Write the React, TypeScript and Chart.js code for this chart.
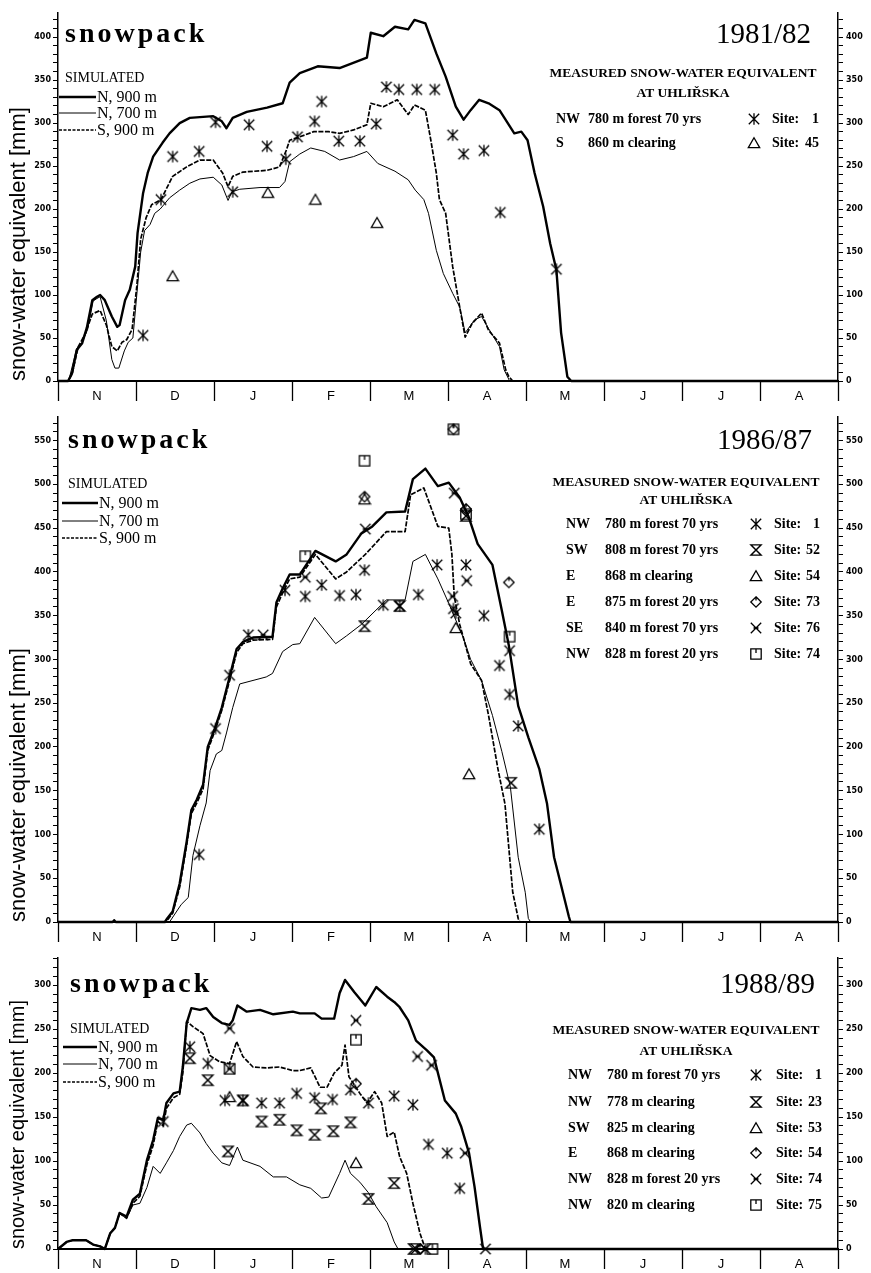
import React, { useEffect, useRef } from 'react';
import { Chart, registerables } from 'chart.js';

Chart.register(...registerables);

type Pt = [number, number];

// x values are month positions: 0 = start of November ... 10 = end of August
const MONTHS = ['N', 'D', 'J', 'F', 'M', 'A', 'M', 'J', 'J', 'A'];
const Y_LABEL = 'snow-water equivalent [mm]';
const SIM_LABELS = ['N, 900 m', 'N, 700 m', 'S, 900 m'];

// ---------- 1981/82 ----------
const p1N900: Pt[] = [[0,0],[0.13,0],[0.18,9],[0.24,36],[0.31,44],[0.37,62],[0.44,94],[0.50,98],[0.54,100],[0.60,94],[0.69,75],[0.76,63],[0.79,65],[0.86,94],[0.92,106],[0.99,133],[1.02,172],[1.09,218],[1.15,242],[1.22,261],[1.34,277],[1.43,288],[1.56,300],[1.69,306],[1.99,308],[2.10,302],[2.16,294],[2.24,306],[2.42,313],[2.68,318],[2.88,323],[2.97,347],[3.10,358],[3.33,366],[3.61,364],[3.96,376],[4.01,405],[4.17,401],[4.32,412],[4.49,409],[4.57,420],[4.71,416],[4.85,381],[4.97,354],[5.10,319],[5.20,304],[5.29,315],[5.40,327],[5.52,323],[5.66,315],[5.85,288],[5.94,290],[6.02,280],[6.11,242],[6.22,203],[6.31,160],[6.39,129],[6.45,56],[6.53,5],[6.58,0],[10,0]];
const p1N700: Pt[] = [[0,0],[0.13,0],[0.15,5],[0.24,38],[0.31,45],[0.38,60],[0.45,93],[0.50,96],[0.54,98],[0.62,70],[0.69,25],[0.73,15],[0.78,15],[0.85,35],[0.90,45],[0.96,50],[1.01,100],[1.06,150],[1.11,175],[1.18,182],[1.24,195],[1.31,200],[1.43,213],[1.56,222],[1.69,230],[1.82,235],[1.99,237],[2.10,228],[2.18,210],[2.23,220],[2.33,223],[2.59,225],[2.84,225],[2.91,232],[2.97,255],[3.10,264],[3.24,271],[3.42,267],[3.61,257],[3.79,261],[3.96,267],[4.10,253],[4.32,244],[4.49,234],[4.58,222],[4.69,211],[4.75,195],[4.85,152],[4.94,125],[5.06,102],[5.15,86],[5.22,56],[5.34,71],[5.43,75],[5.52,61],[5.66,40],[5.72,13],[5.79,0],[10,0]];
const p1S900: Pt[] = [[0,0],[0.13,0],[0.18,8],[0.26,40],[0.35,55],[0.44,78],[0.54,82],[0.62,65],[0.69,40],[0.76,35],[0.82,45],[0.88,48],[0.95,60],[1.01,110],[1.06,165],[1.13,190],[1.20,205],[1.32,211],[1.47,238],[1.65,249],[1.82,257],[1.99,257],[2.11,242],[2.18,226],[2.24,238],[2.37,243],[2.68,245],[2.84,249],[2.93,269],[2.97,280],[3.10,284],[3.28,290],[3.47,290],[3.61,288],[3.79,292],[3.96,298],[4.01,323],[4.17,319],[4.35,327],[4.49,310],[4.57,321],[4.71,315],[4.78,280],[4.85,242],[4.89,211],[4.97,195],[5.06,133],[5.15,86],[5.22,51],[5.31,67],[5.43,79],[5.52,59],[5.66,44],[5.74,13],[5.78,5],[5.83,0],[10,0]];
const p1Site1: Pt[] = [[1.09,53],[1.32,211],[1.47,261],[1.81,267],[2.02,301],[2.24,220],[2.45,298],[2.68,273],[2.92,258],[3.07,284],[3.29,302],[3.38,325],[3.60,279],[3.87,279],[4.08,299],[4.21,342],[4.37,339],[4.60,339],[4.83,339],[5.06,286],[5.20,264],[5.46,268],[5.67,196],[6.39,130]];
const p1Site45: Pt[] = [[1.47,122],[2.69,219],[3.30,211],[4.09,184]];

// ---------- 1986/87 ----------
const p2N900: Pt[] = [[0,0],[0.70,0],[0.72,2],[0.74,0],[1.37,0],[1.40,4],[1.47,12],[1.56,44],[1.65,92],[1.71,128],[1.78,140],[1.86,157],[1.92,200],[2.01,221],[2.10,245],[2.20,280],[2.29,312],[2.37,320],[2.50,325],[2.75,326],[2.80,365],[2.88,381],[2.97,397],[3.10,397],[3.30,424],[3.56,412],[3.70,420],[3.89,444],[4.03,452],[4.21,468],[4.45,469],[4.55,506],[4.71,518],[4.87,498],[5.01,502],[5.15,485],[5.26,464],[5.38,432],[5.57,408],[5.69,356],[5.78,316],[5.90,247],[6.03,211],[6.17,175],[6.27,135],[6.36,74],[6.45,42],[6.55,6],[6.57,0],[10,0]];
const p2N700: Pt[] = [[0,0],[1.43,0],[1.58,20],[1.67,28],[1.73,76],[1.82,110],[1.90,136],[1.95,173],[2.03,192],[2.10,196],[2.16,216],[2.24,245],[2.33,272],[2.50,276],[2.67,280],[2.75,284],[2.88,309],[3.01,317],[3.10,318],[3.29,348],[3.56,318],[3.70,327],[3.89,340],[4.21,368],[4.45,368],[4.55,412],[4.71,420],[4.87,392],[5.01,364],[5.20,324],[5.29,300],[5.43,276],[5.57,236],[5.69,195],[5.80,154],[5.90,74],[5.99,34],[6.03,4],[6.06,0],[10,0]];
const p2S900: Pt[] = [[0,0],[1.37,0],[1.40,2],[1.47,10],[1.56,40],[1.65,88],[1.71,124],[1.78,136],[1.86,152],[1.92,196],[2.01,218],[2.10,242],[2.20,276],[2.29,308],[2.37,318],[2.50,322],[2.75,323],[2.80,360],[2.88,376],[2.97,392],[3.10,394],[3.30,420],[3.56,392],[3.70,400],[3.94,420],[4.21,446],[4.45,446],[4.52,488],[4.69,496],[4.87,452],[5.01,450],[5.05,420],[5.08,372],[5.15,340],[5.29,295],[5.43,276],[5.52,236],[5.64,175],[5.73,135],[5.83,34],[5.90,4],[5.92,0],[10,0]];
const p2Site1: Pt[] = [[1.81,77],[2.02,221],[2.20,282],[2.44,328],[2.91,379],[3.17,372],[3.38,385],[3.61,373],[3.82,374],[3.93,402],[4.17,362],[4.38,361],[4.62,374],[4.86,408],[5.07,358],[5.10,353],[5.23,408],[5.46,350],[5.66,293],[5.79,260],[5.90,224],[6.17,106]];
const p2Site52: Pt[] = [[3.93,338],[4.38,361],[5.23,464],[5.81,159]];
const p2Site54: Pt[] = [[3.93,483],[5.10,336],[5.27,169]];
const p2Site73: Pt[] = [[3.93,486],[5.07,563],[5.23,472],[5.78,388]];
const p2Site76: Pt[] = [[2.63,328],[3.17,394],[3.94,449],[5.06,372],[5.08,490],[5.24,390],[5.79,310]];
const p2Site74: Pt[] = [[3.17,418],[3.93,527],[5.07,563],[5.23,466],[5.79,326]];

// ---------- 1988/89 ----------
const p3N900: Pt[] = [[0,0],[0.11,8],[0.19,10],[0.36,10],[0.45,5],[0.54,3],[0.60,0],[0.67,18],[0.73,24],[0.79,41],[0.88,37],[0.96,56],[1.05,63],[1.14,101],[1.22,124],[1.28,149],[1.35,147],[1.39,166],[1.48,177],[1.56,179],[1.60,207],[1.65,257],[1.71,274],[1.82,272],[1.90,274],[1.99,264],[2.10,257],[2.20,255],[2.24,260],[2.30,277],[2.42,270],[2.59,272],[2.76,267],[3.01,270],[3.10,268],[3.29,268],[3.38,262],[3.54,262],[3.61,291],[3.68,306],[3.80,292],[3.94,277],[4.08,298],[4.22,287],[4.31,281],[4.38,275],[4.49,260],[4.59,237],[4.73,226],[4.82,218],[4.96,169],[5.10,154],[5.17,139],[5.27,109],[5.34,71],[5.41,25],[5.45,0],[10,0]];
const p3N700: Pt[] = [[0,0],[0.11,8],[0.19,10],[0.36,10],[0.45,5],[0.54,3],[0.60,0],[0.67,18],[0.73,24],[0.79,40],[0.88,35],[0.96,50],[1.05,52],[1.14,70],[1.22,94],[1.31,86],[1.39,98],[1.48,112],[1.56,128],[1.65,141],[1.71,143],[1.82,132],[1.90,120],[1.99,109],[2.10,98],[2.20,95],[2.30,116],[2.37,101],[2.59,94],[2.76,82],[2.93,82],[3.10,73],[3.24,69],[3.38,58],[3.47,59],[3.61,86],[3.68,101],[3.75,86],[3.87,76],[3.98,64],[4.08,48],[4.22,30],[4.31,8],[4.36,0],[10,0]];
const p3S900: Pt[] = [[0,0],[0.11,8],[0.19,10],[0.36,10],[0.45,5],[0.54,3],[0.60,0],[0.67,18],[0.73,24],[0.79,41],[0.88,35],[0.96,52],[1.05,60],[1.14,96],[1.22,118],[1.28,145],[1.35,140],[1.39,160],[1.48,172],[1.56,176],[1.60,200],[1.65,259],[1.73,253],[1.86,245],[1.95,220],[2.07,213],[2.20,211],[2.29,236],[2.37,219],[2.50,207],[2.67,206],[2.84,207],[3.01,203],[3.10,203],[3.24,206],[3.36,184],[3.45,184],[3.54,200],[3.64,209],[3.68,232],[3.73,196],[3.87,177],[3.96,166],[4.06,179],[4.15,166],[4.22,128],[4.31,133],[4.38,105],[4.47,86],[4.55,52],[4.64,18],[4.71,0],[10,0]];
const p3Site1: Pt[] = [[1.35,145],[1.69,230],[1.92,211],[2.14,169],[2.37,169],[2.61,166],[2.84,166],[3.06,177],[3.29,172],[3.52,170],[3.75,181],[3.98,166],[4.31,174],[4.55,164],[4.71,0],[4.75,119],[4.99,109],[5.15,69]];
const p3Site23: Pt[] = [[1.69,217],[1.92,192],[2.18,111],[2.37,169],[2.61,145],[2.84,147],[3.06,135],[3.29,130],[3.37,160],[3.53,134],[3.75,144],[3.98,57],[4.31,75],[4.56,0]];
const p3Site53: Pt[] = [[2.20,173],[3.82,98]];
const p3Site54: Pt[] = [[3.82,188],[4.64,0]];
const p3Site74: Pt[] = [[2.20,251],[2.20,205],[3.82,260],[4.61,219],[4.79,209],[5.22,109],[5.48,0],[4.59,0]];
const p3Site75: Pt[] = [[2.20,205],[3.82,238],[4.80,0]];

interface Site { kind: string; pts: Pt[]; dir: string; desc: string; site: string }
interface Panel {
  year: string; yMax: number; height: number; top: number; padTop: number; xAxisH: number; titleSize: number;
  lines: Pt[][]; sites: Site[];
  L: {
    snowX: number; snowY: number; yearX: number; yearY: number; simX: number; simY: number;
    simLines: number[]; lx0: number; lx1: number; measX: number; measY1: number; measY2: number;
    rows: number[]; dirX: number; descX: number; markX: number; siteX: number; numX: number;
  };
}

const PANELS: Panel[] = [
  {
    year: '1981/82', yMax: 428, height: 402, top: 0, padTop: 13, xAxisH: 21, titleSize: 22,
    lines: [p1N900, p1N700, p1S900],
    sites: [
      { kind: 'star', pts: p1Site1, dir: 'NW', desc: '780 m forest 70 yrs', site: '1' },
      { kind: 'triangle', pts: p1Site45, dir: 'S', desc: '860 m clearing', site: '45' },
    ],
    L: { snowX: 65, snowY: 42, yearX: 811, yearY: 43, simX: 65, simY: 82, simLines: [97, 113, 130], lx0: 59, lx1: 96,
      measX: 683, measY1: 77, measY2: 97, rows: [119, 143], dirX: 556, descX: 588, markX: 754, siteX: 772, numX: 819 },
  },
  {
    year: '1986/87', yMax: 577, height: 541, top: 402, padTop: 15, xAxisH: 21, titleSize: 22,
    lines: [p2N900, p2N700, p2S900],
    sites: [
      { kind: 'star', pts: p2Site1, dir: 'NW', desc: '780 m forest 70 yrs', site: '1' },
      { kind: 'hourglass', pts: p2Site52, dir: 'SW', desc: '808 m forest 70 yrs', site: '52' },
      { kind: 'triangle', pts: p2Site54, dir: 'E', desc: '868 m clearing', site: '54' },
      { kind: 'diamond', pts: p2Site73, dir: 'E', desc: '875 m forest 20 yrs', site: '73' },
      { kind: 'xbar', pts: p2Site76, dir: 'SE', desc: '840 m forest 70 yrs', site: '76' },
      { kind: 'square', pts: p2Site74, dir: 'NW', desc: '828 m forest 20 yrs', site: '74' },
    ],
    L: { snowX: 68, snowY: 46, yearX: 812, yearY: 47, simX: 68, simY: 86, simLines: [101, 119, 136], lx0: 62, lx1: 98,
      measX: 686, measY1: 84, measY2: 102, rows: [122, 148, 174, 200, 226, 252], dirX: 566, descX: 605, markX: 756, siteX: 774, numX: 820 },
  },
  {
    year: '1988/89', yMax: 331, height: 328, top: 943, padTop: 15, xAxisH: 22, titleSize: 20,
    lines: [p3N900, p3N700, p3S900],
    sites: [
      { kind: 'star', pts: p3Site1, dir: 'NW', desc: '780 m forest 70 yrs', site: '1' },
      { kind: 'hourglass', pts: p3Site23, dir: 'NW', desc: '778 m clearing', site: '23' },
      { kind: 'triangle', pts: p3Site53, dir: 'SW', desc: '825 m clearing', site: '53' },
      { kind: 'diamond', pts: p3Site54, dir: 'E', desc: '868 m clearing', site: '54' },
      { kind: 'xbar', pts: p3Site74, dir: 'NW', desc: '828 m forest 20 yrs', site: '74' },
      { kind: 'square', pts: p3Site75, dir: 'NW', desc: '820 m clearing', site: '75' },
    ],
    L: { snowX: 70, snowY: 49, yearX: 815, yearY: 50, simX: 70, simY: 90, simLines: [104, 121, 139], lx0: 63, lx1: 97,
      measX: 686, measY1: 91, measY2: 112, rows: [132, 159, 185, 210, 236, 262], dirX: 568, descX: 607, markX: 756, siteX: 776, numX: 822 },
  },
];

const markerCache: Record<string, HTMLCanvasElement> = {};
function marker(kind: string): HTMLCanvasElement {
  if (markerCache[kind]) return markerCache[kind];
  const s = 14;
  const c = document.createElement('canvas');
  c.width = s; c.height = s;
  const g = c.getContext('2d')!;
  g.strokeStyle = '#000';
  g.lineWidth = 1.3;
  const m = s / 2, r = 5.2;
  g.beginPath();
  if (kind === 'star') {
    g.moveTo(m, m - r - 0.5); g.lineTo(m, m + r + 0.5);
    g.moveTo(m - r, m - r); g.lineTo(m + r, m + r);
    g.moveTo(m - r, m + r); g.lineTo(m + r, m - r);
  } else if (kind === 'hourglass') {
    g.moveTo(m - r, m - r); g.lineTo(m + r, m - r); g.lineTo(m - r, m + r); g.lineTo(m + r, m + r); g.closePath();
  } else if (kind === 'triangle') {
    g.moveTo(m, m - r); g.lineTo(m + r + 0.5, m + r - 0.5); g.lineTo(m - r - 0.5, m + r - 0.5); g.closePath();
  } else if (kind === 'diamond') {
    g.moveTo(m, m - r); g.lineTo(m + r, m); g.lineTo(m, m + r); g.lineTo(m - r, m); g.closePath();
    g.moveTo(m, m - r); g.lineTo(m, m - 1.5);
  } else if (kind === 'xbar') {
    g.moveTo(m - r, m - r); g.lineTo(m + r, m + r);
    g.moveTo(m - r, m + r); g.lineTo(m + r, m - r);
    g.moveTo(m - 2.5, m); g.lineTo(m + 2.5, m);
  } else if (kind === 'square') {
    g.rect(m - r, m - r, 2 * r, 2 * r);
    g.moveTo(m, m - r); g.lineTo(m, m - 1);
  }
  g.stroke();
  markerCache[kind] = c;
  return c;
}

const LINE_STYLES = [
  { width: 2.4, dash: [] as number[] },
  { width: 1.0, dash: [] as number[] },
  { width: 1.7, dash: [5, 1.5] },
];

const SERIF = '"Liberation Serif", "Times New Roman", serif';
const SANS = '"Liberation Sans", Arial, sans-serif';

function annotatePlugin(p: Panel) {
  return {
    id: 'annotate',
    afterDraw(chart: any) {
      const ctx: CanvasRenderingContext2D = chart.ctx;
      const L = p.L;
      ctx.save();
      ctx.fillStyle = '#000';
      ctx.textBaseline = 'alphabetic';
      ctx.textAlign = 'left';
      ctx.font = `bold 28px ${SERIF}`;
      (ctx as any).letterSpacing = '3px';
      ctx.fillText('snowpack', L.snowX, L.snowY);
      (ctx as any).letterSpacing = '0px';
      ctx.textAlign = 'right';
      ctx.font = `29px ${SERIF}`;
      ctx.fillText(p.year, L.yearX, L.yearY);

      // simulated legend
      ctx.textAlign = 'left';
      ctx.font = `14px ${SERIF}`;
      ctx.fillText('SIMULATED', L.simX, L.simY);
      ctx.font = `16px ${SERIF}`;
      L.simLines.forEach((y, i) => {
        ctx.save();
        ctx.strokeStyle = '#000';
        ctx.lineWidth = LINE_STYLES[i].width;
        ctx.setLineDash(LINE_STYLES[i].dash.length ? [3, 1.5] : []);
        ctx.beginPath();
        ctx.moveTo(L.lx0, y);
        ctx.lineTo(L.lx1, y);
        ctx.stroke();
        ctx.restore();
        ctx.textBaseline = 'middle';
        ctx.fillText(SIM_LABELS[i], L.lx1 + 1, y + 1);
      });

      // measured legend
      ctx.textBaseline = 'alphabetic';
      ctx.textAlign = 'center';
      ctx.font = `bold 13.5px ${SERIF}`;
      ctx.fillText('MEASURED SNOW-WATER EQUIVALENT', L.measX, L.measY1);
      ctx.fillText('AT UHLIŘSKA', L.measX, L.measY2);
      ctx.textBaseline = 'middle';
      ctx.font = `bold 14px ${SERIF}`;
      p.sites.forEach((s, i) => {
        const y = L.rows[i];
        ctx.textAlign = 'left';
        ctx.fillText(s.dir, L.dirX, y);
        ctx.fillText(s.desc, L.descX, y);
        ctx.fillText('Site:', L.siteX, y);
        ctx.textAlign = 'right';
        ctx.fillText(s.site, L.numX, y);
        const mk = marker(s.kind);
        ctx.drawImage(mk, L.markX - mk.width / 2, y - mk.height / 2);
      });
      ctx.restore();
    },
  };
}

function buildConfig(p: Panel): any {
  const toXY = (pts: Pt[]) => pts.map(([x, y]) => ({ x, y }));
  const datasets: any[] = p.lines.map((pts, i) => ({
    type: 'line',
    label: SIM_LABELS[i],
    data: toXY(pts),
    borderColor: '#000',
    borderWidth: LINE_STYLES[i].width,
    borderDash: LINE_STYLES[i].dash,
    borderJoinStyle: 'round',
    pointRadius: 0,
    fill: false,
    tension: 0,
    clip: false,
  }));
  p.sites.forEach((s) => {
    datasets.push({
      type: 'scatter',
      label: 'Site: ' + s.site,
      data: toXY(s.pts),
      pointStyle: marker(s.kind),
      pointRadius: 5,
      borderColor: '#000',
      backgroundColor: 'rgba(0,0,0,0)',
      showLine: false,
      clip: false,
    });
  });
  const yTicks = Array.from({ length: Math.floor(p.yMax / 10) + 1 }, (_, i) => ({ value: i * 10 }));
  const yCommon = {
    type: 'linear',
    min: 0,
    max: p.yMax,
    afterBuildTicks: (s: any) => { s.ticks = yTicks.map((t) => ({ ...t })); },
    grid: { display: true, drawOnChartArea: false, drawTicks: true, tickLength: 5, tickWidth: 1, tickColor: '#000' },
    border: { display: true, color: '#000', width: 1.5 },
    ticks: {
      autoSkip: false,
      color: '#000',
      font: { family: '"DejaVu Sans", sans-serif', size: 8, weight: 'bold' },
      callback: (v: number) => (v % 50 === 0 ? String(v) : ''),
    },
  };
  return {
    type: 'line',
    data: { datasets },
    options: {
      responsive: false,
      animation: false,
      devicePixelRatio: 1,
      events: [],
      layout: { padding: { top: p.padTop, left: 0, right: 0, bottom: 0 } },
      plugins: { legend: { display: false }, tooltip: { enabled: false }, title: { display: false } },
      scales: {
        x: {
          type: 'linear',
          position: 'bottom',
          min: 0,
          max: 10,
          afterBuildTicks: (s: any) => { s.ticks = Array.from({ length: 21 }, (_, i) => ({ value: i / 2 })); },
          afterFit: (s: any) => { s.height = p.xAxisH; },
          grid: {
            display: true,
            drawOnChartArea: false,
            drawTicks: true,
            tickLength: 20,
            tickWidth: 1.3,
            tickColor: (c: any) => (c.tick && Number.isInteger(c.tick.value) ? '#000' : 'rgba(0,0,0,0)'),
          },
          border: { display: true, color: '#000', width: 2 },
          ticks: {
            autoSkip: false,
            maxRotation: 0,
            minRotation: 0,
            padding: -12,
            color: '#000',
            font: { family: SANS, size: 13 },
            callback: (v: number) => {
              const i = Math.floor(v);
              return Math.abs(v - i - 0.5) < 1e-6 ? MONTHS[i] : '';
            },
          },
        },
        y: {
          ...yCommon,
          position: 'left',
          afterFit: (s: any) => { s.width = 58; },
          ticks: { ...yCommon.ticks, padding: 2 },
          title: {
            display: true,
            text: Y_LABEL,
            align: 'start',
            color: '#000',
            font: { family: SANS, size: p.titleSize },
            padding: { top: 6, bottom: 0 },
          },
        },
        y2: {
          ...yCommon,
          position: 'right',
          afterFit: (s: any) => { s.width = 33; },
          ticks: { ...yCommon.ticks, padding: 3 },
        },
      },
    },
    plugins: [annotatePlugin(p)],
  };
}

function PanelChart({ panel }: { panel: Panel }) {
  const ref = useRef<HTMLCanvasElement>(null);
  useEffect(() => {
    const chart = new Chart(ref.current as HTMLCanvasElement, buildConfig(panel));
    return () => chart.destroy();
  }, [panel]);
  return (
    <div style={{ position: 'absolute', left: 0, top: panel.top, width: 871, height: panel.height }}>
      <canvas ref={ref} width={871} height={panel.height} style={{ display: 'block', width: 871, height: panel.height }} />
    </div>
  );
}

export default function App() {
  return (
    <div style={{ position: 'absolute', left: 0, top: 0, width: 871, height: 1273, background: '#fff' }}>
      {PANELS.map((p) => (
        <PanelChart key={p.year} panel={p} />
      ))}
    </div>
  );
}
